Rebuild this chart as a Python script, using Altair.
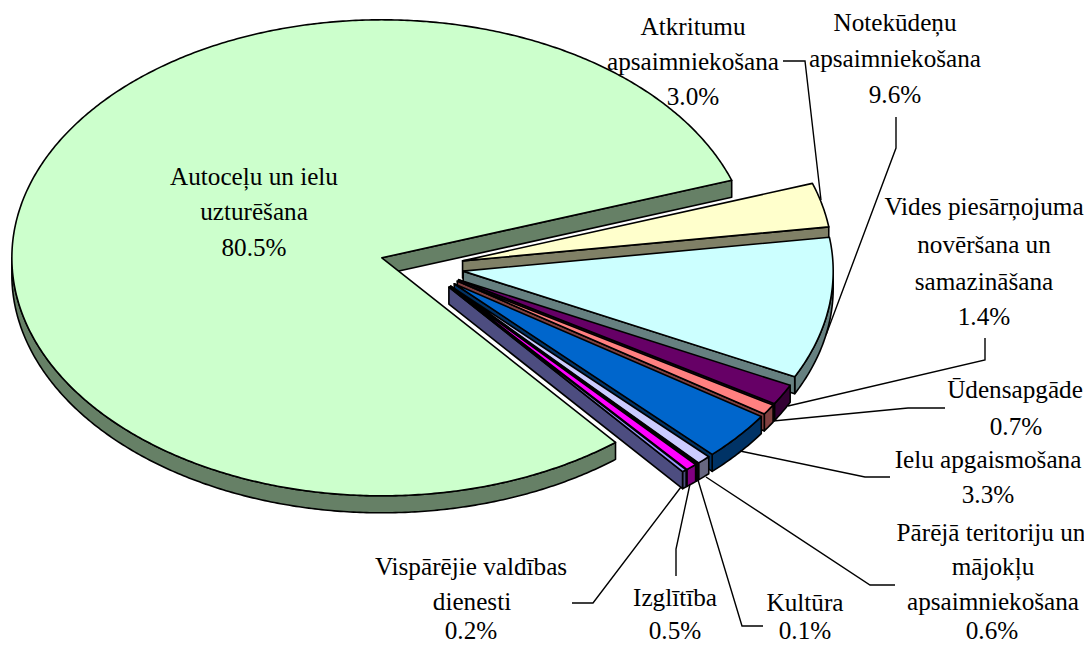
import math
import altair as alt
import pandas as pd

names = ["Autoceļu un ielu uzturēšana", "Atkritumu apsaimniekošana", "Notekūdeņu apsaimniekošana",
         "Vides piesārņojuma novēršana un samazināšana", "Ūdensapgāde", "Ielu apgaismošana",
         "Pārējā teritoriju un mājokļu apsaimniekošana", "Kultūra", "Izglītība", "Vispārējie valdības dienesti"]
shares = [80.5, 3.0, 9.6, 1.4, 0.7, 3.3, 0.6, 0.1, 0.5, 0.2]
tops = ["#ccffcc", "#ffffcc", "#ccffff", "#660066", "#ff8080", "#0066cc", "#ccccff", "#000080", "#ff00ff", "#9999ff"]
sides = ["#668066", "#808066", "#668080", "#330033", "#804040", "#003366", "#666680", "#000040", "#800080", "#4d4d80"]

label_lines = [
    ("Autoceļu un ielu", 254, 177), ("uzturēšana", 254, 212), ("80.5%", 254, 248),
    ("Atkritumu", 693, 27), ("apsaimniekošana", 693, 62), ("3.0%", 693, 97),
    ("Notekūdeņu", 895, 23), ("apsaimniekošana", 895, 59), ("9.6%", 895, 95),
    ("Vides piesārņojuma", 984, 207), ("novēršana un", 984, 245), ("samazināšana", 984, 282), ("1.4%", 984, 317),
    ("Ūdensapgāde", 1015, 390), ("0.7%", 1016, 427),
    ("Ielu apgaismošana", 988, 460), ("3.3%", 988, 495),
    ("Pārējā teritoriju un", 991, 533), ("mājokļu", 993, 567), ("apsaimniekošana", 993, 602), ("0.6%", 992, 631),
    ("Vispārējie valdības", 471, 567), ("dienesti", 472, 602), ("0.2%", 471, 631),
    ("Izglītība", 675, 598), ("0.5%", 675, 631),
    ("Kultūra", 805, 603), ("0.1%", 805, 631),
]
leaders = [
    [(783, 61), (805, 61), (821, 200)],
    [(896, 117), (896, 148), (826, 335)],
    [(985, 338), (985, 360), (788, 406)],
    [(773, 421), (908, 408), (945, 408)],
    [(740, 451), (865, 477), (890, 477)],
    [(706, 477), (870, 585), (895, 585)],
    [(698, 480), (742, 626), (763, 626)],
    [(690, 484), (676, 549), (676, 576)],
    [(681, 487), (593, 603), (572, 603)],
]

CX, CY, A, B, EXPL, DEPTH = 423, 267, 370, 238, 0.11, 17
START = 71
W, H = 1076, 635
xs = alt.Scale(domain=[8, 8 + W], range=[0, W], nice=False, zero=False)
ys = alt.Scale(domain=[8, 8 + H], range=[0, H], nice=False, zero=False)


def ey(t):
    return -B * math.cos(math.radians(t))


def ex(t):
    return A * math.sin(math.radians(t))


def poly(pts, fill):
    df = pd.DataFrame({"px": [p[0] for p in pts], "py": [p[1] for p in pts], "i": range(len(pts))})
    return alt.Chart(df).mark_line(fill=fill, stroke="black", strokeWidth=1.6, strokeJoin="round",
                                   interpolate="linear-closed").encode(
        x=alt.X("px:Q", scale=xs, axis=None), y=alt.Y("py:Q", scale=ys, axis=None), order="i:Q")


def arc(cx, cy, t0, t1, d=0):
    n = max(2, int(abs(t1 - t0) * 2))
    return [(cx + ex(t0 + (t1 - t0) * k / n), cy + ey(t0 + (t1 - t0) * k / n) + d) for k in range(n + 1)]


layers = []
ang = START
spans = {}
for i in range(1, len(shares)):
    spans[i] = (ang, ang + shares[i] * 3.6)
    ang += shares[i] * 3.6
spans[0] = (ang, START + 360)

for i in range(len(shares)):
    t0, t1 = spans[i]
    m = math.radians((t0 + t1) / 2)
    cx = CX + EXPL * A * math.sin(m)
    cy = CY - EXPL * B * math.cos(m)
    if i == 0:
        cx -= 2
        cy -= 2
    # visible outer rim: lower half of the ellipse only
    a0, a1 = max(t0, 90), min(t1, 270)
    if a1 > a0:
        top = arc(cx, cy, a0, a1)
        low = arc(cx, cy, a0, a1, DEPTH)
        layers.append(poly(top + low[::-1], sides[i]))
    # radial cut faces that look towards the viewer
    for t, vis in ((t0, math.sin(math.radians(t0)) < 0), (t1, math.sin(math.radians(t1)) > 0)):
        if vis:
            p = (cx + ex(t), cy + ey(t))
            layers.append(poly([(cx, cy), p, (p[0], p[1] + DEPTH), (cx, cy + DEPTH)], sides[i]))
    layers.append(poly([(cx, cy)] + arc(cx, cy, t0, t1), tops[i]))

for seg in leaders:
    df = pd.DataFrame({"px": [p[0] for p in seg], "py": [p[1] for p in seg], "i": range(len(seg))})
    layers.append(alt.Chart(df).mark_line(color="black", strokeWidth=1.4).encode(
        x=alt.X("px:Q", scale=xs, axis=None), y=alt.Y("py:Q", scale=ys, axis=None), order="i:Q"))

tdf = pd.DataFrame(label_lines, columns=["t", "px", "py"])
layers.append(alt.Chart(tdf).mark_text(font="Liberation Serif", fontSize=25.2, color="black", baseline="middle",
                                       align="center").encode(
    x=alt.X("px:Q", scale=xs, axis=None), y=alt.Y("py:Q", scale=ys, axis=None), text="t:N"))

chart = alt.layer(*layers).properties(width=W, height=H, padding=0, autosize="none",
                                      background="white").configure_view(stroke=None)
chart.save("out.html", embed_options={"renderer": "svg", "actions": False})
